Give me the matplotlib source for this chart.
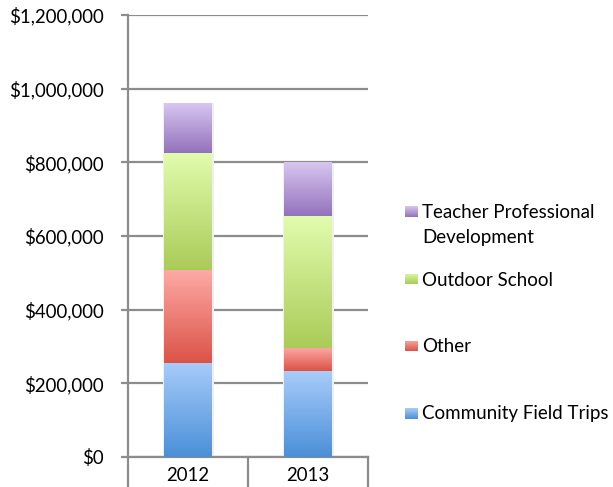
import numpy as np
import matplotlib
matplotlib.use("Agg")
import matplotlib.pyplot as plt
from matplotlib.colors import LinearSegmentedColormap
from matplotlib.patches import Rectangle
from matplotlib.ticker import FuncFormatter

plt.rcParams['font.family'] = ['Lato', 'DejaVu Sans']

years = ["2012", "2013"]
series = ["Community Field Trips", "Other", "Outdoor School", "Teacher Professional\nDevelopment"]
community = [256000, 233000]
other = [252000, 64000]
outdoor = [318000, 357000]
teacher = [135000, 145000]
values = [community, other, outdoor, teacher]
# (top colour, bottom colour)
colors = [("#a8ccfa", "#4a8fd8"), ("#fdaaa5", "#db5347"), ("#e2fcae", "#aacb58"), ("#d7c6f1", "#9372bb")]

W, H = 613, 487
fig = plt.figure(figsize=(W / 100, H / 100), dpi=100)
ax = fig.add_axes([128 / W, 1 - 457 / H, 240 / W, 442 / H])

bw = 0.4
x = np.arange(len(years))
bottom = np.zeros(len(years))
grad = np.linspace(0, 1, 256).reshape(-1, 1)
for vals, (ctop, cbot) in zip(values, colors):
    cmap = LinearSegmentedColormap.from_list("g", [cbot, ctop])
    for i in range(len(years)):
        y0 = bottom[i]
        y1 = bottom[i] + vals[i]
        ax.add_patch(Rectangle((x[i] - bw / 2 - 0.006, y0), bw + 0.02, vals[i],
                               facecolor="#efefef", edgecolor="none", zorder=2))
        ax.imshow(grad, cmap=cmap, aspect="auto", origin="lower",
                  extent=(x[i] - bw / 2, x[i] + bw / 2, y0, y1), zorder=3)
    bottom += np.array(vals)

ax.set_xlim(-0.5, 1.5)
ax.set_ylim(0, 1200000)

ax.set_yticks(np.arange(0, 1200001, 200000))
ax.yaxis.set_major_formatter(FuncFormatter(lambda v, p: f"${int(v):,}"))
ax.grid(axis="y", color="#8c8c8c", linewidth=1.6, zorder=0)
ax.set_axisbelow(True)
ax.tick_params(axis="y", length=4.7, width=1.6, color="#8c8c8c", labelsize=13.4, pad=13)
ax.set_xticks(x)
ax.set_xticklabels(years)
ax.tick_params(axis="x", length=0, labelsize=13.4, pad=7)
for s in ["top", "right"]:
    ax.spines[s].set_visible(False)
for s in ["left", "bottom"]:
    ax.spines[s].set_color("#8c8c8c")
    ax.spines[s].set_linewidth(1.6)

# category separators extending below axis
for xb in [-0.5, 0.5, 1.5]:
    ax.plot([xb, xb], [0, -32 / 442 * 1200000], color="#8c8c8c", linewidth=1.6,
            clip_on=False, zorder=1)

# legend (manual placement)
leg_y = [414, 347, 280, 212.7]
for name, (ctop, cbot), yc in zip(series, colors, leg_y):
    box_top = yc - 6.5
    cmap = LinearSegmentedColormap.from_list("g", [cbot, ctop])
    lax = fig.add_axes([405 / W, 1 - (box_top + 11) / H, 12.5 / W, 11 / H])
    lax.imshow(grad, cmap=cmap, aspect="auto", origin="lower")
    lax.axis("off")
    for k, line in enumerate(name.split("\n")):
        fig.text(422 / W, 1 - (yc + 25.3 * k) / H, line, ha="left", va="center",
                 fontsize=13.5)

fig.savefig("out.png", dpi=100)
